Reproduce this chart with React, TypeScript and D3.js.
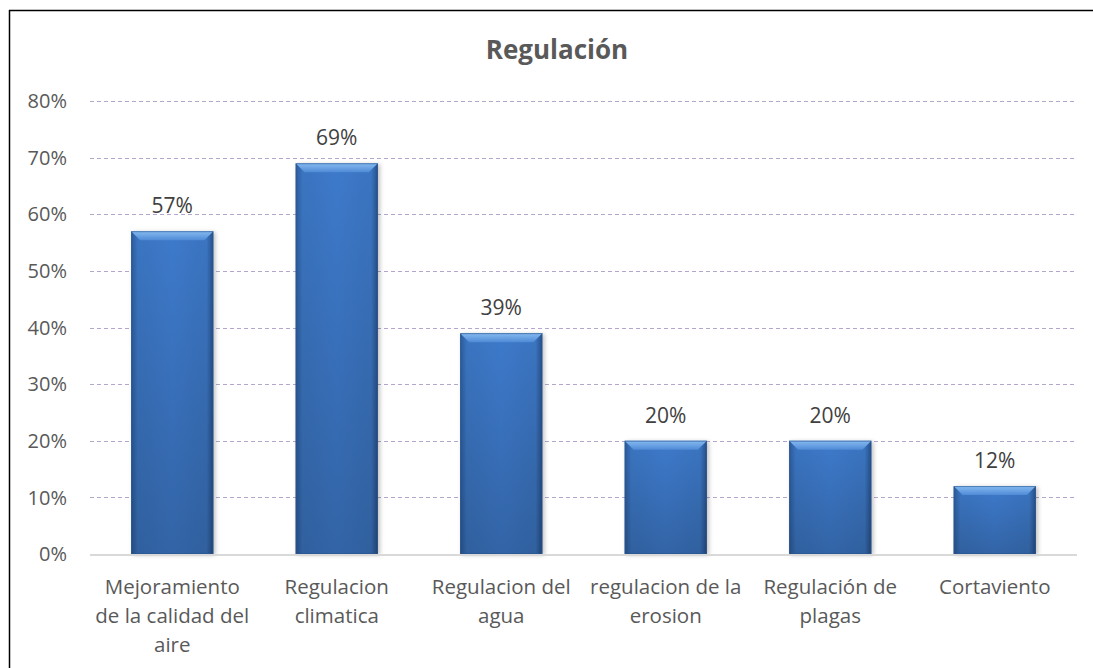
import React, { useEffect } from "react";
import * as d3 from "d3";

const categories: string[][] = [
  ["Mejoramiento", "de la calidad del", "aire"],
  ["Regulacion", "climatica"],
  ["Regulacion del", "agua"],
  ["regulacion de la", "erosion"],
  ["Regulación de", "plagas"],
  ["Cortaviento"],
];
const values: number[] = [0.57, 0.69, 0.39, 0.2, 0.2, 0.12];
const yTicks: number[] = [0, 0.1, 0.2, 0.3, 0.4, 0.5, 0.6, 0.7, 0.8];
const title = "Regulación";

const W = 1093;
const H = 668;
const M = { left: 90, right: 1077, top: 101, bottom: 554 };
const FONT = "'Open Sans', sans-serif";
const TEXT = "#595959";

export default function App() {
  useEffect(() => {
    document.documentElement.style.overflow = "hidden";
    document.body.style.margin = "0";
  }, []);

  const x = d3
    .scaleBand<number>()
    .domain(d3.range(values.length))
    .range([M.left, M.right])
    .paddingInner(0.5)
    .paddingOuter(0.25);
  const y = d3.scaleLinear().domain([0, 0.8]).range([M.bottom, M.top]);
  const pct = d3.format(".0%");
  const bw = x.bandwidth();
  const bevel = 9;

  return (
    <svg
      width={W}
      height={H}
      style={{ position: "absolute", left: 0, top: 0, background: "#fff", display: "block" }}
      fontFamily={FONT}
    >
      <defs>
        <linearGradient id="barBody" x1="0" y1="0" x2="1" y2="0">
          <stop offset="0" stopColor="#2b5a9a" />
          <stop offset="0.08" stopColor="#3a74c0" />
          <stop offset="0.5" stopColor="#3d7acb" />
          <stop offset="0.92" stopColor="#3a74c0" />
          <stop offset="1" stopColor="#274f88" />
        </linearGradient>
        <linearGradient id="barShade" x1="0" y1="0" x2="0" y2="1">
          <stop offset="0" stopColor="#000" stopOpacity="0" />
          <stop offset="1" stopColor="#000" stopOpacity="0.18" />
        </linearGradient>
        <linearGradient id="barTop" x1="0" y1="0" x2="0" y2="1">
          <stop offset="0" stopColor="#86bbf0" />
          <stop offset="1" stopColor="#4f8ad6" />
        </linearGradient>
        <filter id="barShadow" x="-20%" y="-5%" width="140%" height="115%">
          <feDropShadow dx="2" dy="1" stdDeviation="2" floodColor="#000" floodOpacity="0.25" />
        </filter>
      </defs>

      {/* chart frame (top and left edges fall inside the view) */}
      <line x1={9} x2={W} y1={10.5} y2={10.5} stroke="#000" strokeWidth={1.5} />
      <line x1={9.5} x2={9.5} y1={10} y2={H} stroke="#000" strokeWidth={1.5} />

      <text x={557} y={59} textAnchor="middle" fontSize={26} fontWeight="bold" fill={TEXT}>
        {title}
      </text>

      {/* gridlines */}
      {yTicks.slice(1).map((t) => (
        <line
          key={t}
          x1={M.left}
          x2={M.right}
          y1={Math.round(y(t)) + 0.5}
          y2={Math.round(y(t)) + 0.5}
          stroke="#b4a7cf"
          strokeWidth={1.2}
          strokeDasharray="4 3"
        />
      ))}

      {/* y tick labels */}
      {yTicks.map((t) => (
        <text
          key={t}
          x={67}
          y={y(t)}
          dy="0.36em"
          textAnchor="end"
          fontSize={20}
          fill={TEXT}
        >
          {pct(t)}
        </text>
      ))}

      {/* bars */}
      {values.map((v, i) => {
        const x0 = x(i)!;
        const y0 = y(v);
        const h = M.bottom - y0;
        return (
          <g key={i}>
            <rect x={x0} y={y0} width={bw} height={h} fill="url(#barBody)" filter="url(#barShadow)" />
            <rect x={x0} y={y0} width={bw} height={h} fill="url(#barShade)" />
            <polygon
              points={`${x0},${y0} ${x0 + bw},${y0} ${x0 + bw - bevel},${y0 + bevel} ${x0 + bevel},${y0 + bevel}`}
              fill="url(#barTop)"
            />
            <rect x={x0 + 0.5} y={y0 + 0.5} width={bw - 1} height={h - 1} fill="none" stroke="#2a5590" strokeOpacity={0.6} />
            <text
              x={x0 + bw / 2}
              y={y0 - 18}
              textAnchor="middle"
              fontSize={21}
              fill="#404040"
            >
              {pct(v)}
            </text>
          </g>
        );
      })}

      {/* x axis line */}
      <line x1={M.left} x2={M.right} y1={M.bottom + 1} y2={M.bottom + 1} stroke="#d9d9d9" strokeWidth={2} />

      {/* category labels */}
      {categories.map((lines, i) => (
        <text
          key={i}
          x={x(i)! + bw / 2}
          y={594}
          textAnchor="middle"
          fontSize={20.5}
          fill={TEXT}
        >
          {lines.map((l, j) => (
            <tspan key={j} x={x(i)! + bw / 2} dy={j === 0 ? 0 : 29}>
              {l}
            </tspan>
          ))}
        </text>
      ))}
    </svg>
  );
}
